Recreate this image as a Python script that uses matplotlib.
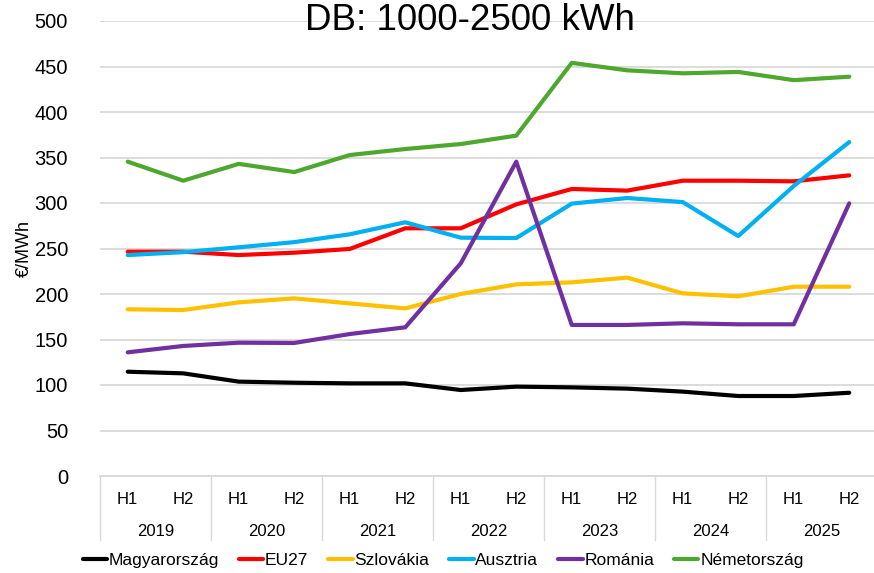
import matplotlib
matplotlib.use("Agg")
import matplotlib.pyplot as plt
import matplotlib.transforms as mtransforms

# adatok (EUR/MWh), félévente
evek = ["2019", "2020", "2021", "2022", "2023", "2024", "2025"]
felevek = ["H1", "H2"]

magyarorszag = [114.6, 112.8, 103.7, 102.5, 101.8, 101.8, 94.5, 98.2, 97.4, 96.0, 92.7, 87.9, 87.9, 91.5]
eu27 = [246.5, 246.5, 242.8, 245.4, 249.5, 272.2, 272.2, 298.5, 315.4, 313.6, 324.5, 324.5, 323.8, 330.4]
szlovakia = [183.2, 182.4, 190.8, 195.2, 189.7, 184.2, 200.0, 210.6, 212.8, 218.0, 200.7, 197.4, 208.0, 208.0]
ausztria = [242.8, 246.0, 251.3, 257.0, 265.6, 278.8, 261.9, 261.5, 299.3, 305.5, 301.0, 263.7, 318.7, 367.0]
romania = [135.9, 142.9, 146.5, 146.2, 156.0, 163.4, 233.7, 345.4, 166.0, 166.0, 167.8, 166.7, 166.7, 299.6]
nemetorszag = [345.4, 324.5, 343.0, 334.0, 352.7, 359.3, 364.8, 374.0, 454.0, 445.8, 442.5, 444.0, 435.0, 438.8]

sorozatok = [
    ("Magyarország", magyarorszag, "#000000"),
    ("EU27", eu27, "#FF0000"),
    ("Szlovákia", szlovakia, "#FFC000"),
    ("Ausztria", ausztria, "#00B0F0"),
    ("Románia", romania, "#7030A0"),
    ("Németország", nemetorszag, "#4EA72E"),
]

plt.rcParams["font.family"] = ["Liberation Sans", "DejaVu Sans"]

fig = plt.figure(figsize=(8.74, 5.73), dpi=100)
ax = fig.add_axes([100 / 874, 97 / 573, 777 / 874, 455 / 573])

x = list(range(len(evek) * len(felevek)))
for nev, adat, szin in sorozatok:
    ax.plot(x, adat, color=szin, lw=3, label=nev, solid_capstyle="round")

ax.set_xlim(-0.5, len(x) - 0.5)
ax.set_ylim(0, 500)
ax.set_yticks(range(0, 501, 50))
ax.tick_params(axis="y", labelsize=14.5, length=0, pad=23)
ax.set_xticks([])
ax.grid(axis="y", color="#d9d9d9", lw=1.3)
ax.set_axisbelow(True)
for s in ["top", "right", "left"]:
    ax.spines[s].set_visible(False)
ax.spines["bottom"].set_color("#d9d9d9")
ax.spines["bottom"].set_linewidth(1.3)

ax.set_ylabel("€/MWh", fontsize=13)
ax.yaxis.set_label_coords(-0.087, 0.5)

# kétszintű kategória tengely
trans = mtransforms.blended_transform_factory(ax.transData, ax.transAxes)
for i in x:
    ax.text(i, -0.051, felevek[i % 2], transform=trans, ha="center", va="center",
            fontsize=12)
for j, ev in enumerate(evek):
    ax.text(2 * j + 0.5, -0.123, ev, transform=trans, ha="center", va="center",
            fontsize=12)
for j in range(len(evek) + 1):
    ax.plot([2 * j - 0.5, 2 * j - 0.5], [0, -0.141], transform=trans, color="#d9d9d9",
            lw=1, clip_on=False)

fig.text(0.538, 0.965, "DB: 1000-2500 kWh", ha="center", va="center", fontsize=26.5)

fig.legend(loc="lower center", ncol=6, frameon=False, bbox_to_anchor=(0.507, -0.019),
           prop={"size": 12.5}, handlelength=1.4, handletextpad=0.1,
           columnspacing=1.15)

fig.savefig("out.png", dpi=100)
